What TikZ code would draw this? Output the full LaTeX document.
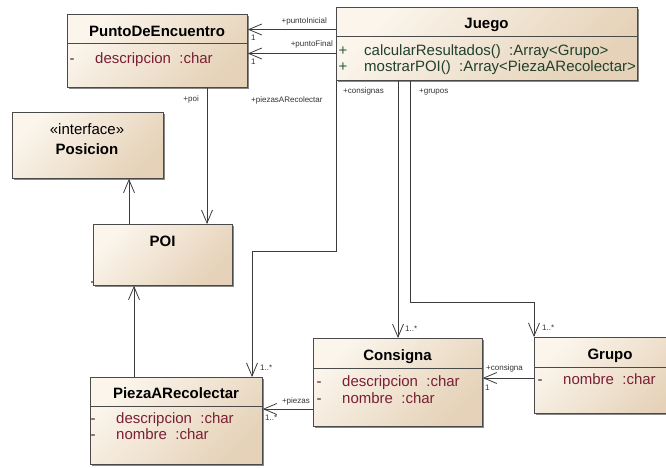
\documentclass[tikz,border=0pt]{standalone}
\usepackage{fontspec}
\setmainfont{Liberation Sans}
\usetikzlibrary{arrows.meta,shadows}
\definecolor{boxA}{HTML}{FBF5EC}
\definecolor{boxB}{HTML}{E5D2B8}
\definecolor{edge}{HTML}{4A4A4A}
\definecolor{attr}{HTML}{7A2035}
\definecolor{dashc}{HTML}{4A1A22}
\definecolor{meth}{HTML}{22402E}
\definecolor{plusc}{HTML}{2C5E3A}
\definecolor{lbl}{HTML}{333333}
\definecolor{wire}{HTML}{3C3C3C}
\begin{document}
\begin{tikzpicture}[x=1pt,y=-1pt,
  cls/.style={draw=edge, line width=0.8pt, anchor=north west, inner sep=0pt,
    top color=boxA, bottom color=boxB, shading angle=45,
    drop shadow={shadow xshift=2pt, shadow yshift=-2pt, fill=black!55, opacity=0.85}},
  divline/.style={draw=edge, line width=0.7pt},
  ttl/.style={font=\fontsize{15}{18}\selectfont\bfseries, anchor=base, inner sep=0pt},
  stereo/.style={font=\fontsize{15}{18}\selectfont, anchor=base, inner sep=0pt},
  attrtxt/.style={font=\fontsize{15}{18}\selectfont, text=attr, anchor=base west, inner sep=0pt},
  dsh/.style={font=\fontsize{15}{18}\selectfont, text=dashc, anchor=base, inner sep=0pt},
  methtxt/.style={font=\fontsize{15}{18}\selectfont, text=meth, anchor=base west, inner sep=0pt},
  plus/.style={font=\fontsize{15}{18}\selectfont, text=plusc, anchor=base, inner sep=0pt},
  lab/.style={font=\fontsize{8}{9}\selectfont, text=lbl, inner sep=0pt},
  assoc/.style={draw=wire, line width=0.8pt, -{Straight Barb[length=13pt,width=11pt]}},
  plain/.style={draw=wire, line width=0.8pt}
]
\useasboundingbox (0,0) rectangle (666,467);

% ---------- classes ----------
\node[cls, minimum width=180pt, minimum height=73pt] (pde) at (67,14) {};
\node[cls, minimum width=301pt, minimum height=73pt] (juego) at (336,7) {};
\node[cls, minimum width=151pt, minimum height=66pt] (pos) at (12,112) {};
\node[cls, minimum width=139pt, minimum height=61pt] (poi) at (93,224) {};
\node[cls, minimum width=172pt, minimum height=87pt] (pieza) at (90,377) {};
\node[cls, minimum width=169pt, minimum height=88pt] (cons) at (313,338) {};
\node[cls, minimum width=152pt, minimum height=76pt] (grupo) at (534,337) {};

% divider levels
\coordinate (dPde) at (0,43);
\coordinate (dJue) at (0,36);
\coordinate (dPie) at (0,406);
\coordinate (dCon) at (0,368);
\coordinate (dGru) at (0,367);
\draw[divline] (pde.west |- dPde) -- (pde.east |- dPde);
\draw[divline] (juego.west |- dJue) -- (juego.east |- dJue);
\draw[divline] (pieza.west |- dPie) -- (pieza.east |- dPie);
\draw[divline] (cons.west |- dCon) -- (cons.east |- dCon);
\draw[divline] (grupo.west |- dGru) -- (grupo.east |- dGru);

% ---------- texts ----------
\node[ttl] (pdeT) at (157,36) {PuntoDeEncuentro};
\node[dsh] (pdeM1) at (72,63) {-};
\node[attrtxt] (pdeA1) at (95,63) {descripcion~ :char};

\node[ttl] (jueT) at (486.5,28) {Juego};
\node[plus] (jueP1) at (343,55) {+};
\node[methtxt] (jueM1) at (364,55) {calcularResultados()~ :Array<Grupo>};
\node[plus] (jueP2) at (343,71) {+};
\node[methtxt] (jueM2) at (364,71) {mostrarPOI()~ :Array<PiezaARecolectar>};

\node[stereo] (posS) at (87,134) {«interface»};
\node[ttl] (posT) at (87,154) {Posicion};

\node[ttl] (poiT) at (162.5,246) {POI};
\fill[black] (92,282) circle (0.9);

\node[ttl] (pieT) at (176,398) {PiezaARecolectar};
\node[dsh] (pieM1) at (93,423) {-};
\node[attrtxt] (pieA1) at (116,423) {descripcion~ :char};
\node[dsh] (pieM2) at (93,439) {-};
\node[attrtxt] (pieA2) at (116,439) {nombre~ :char};

\node[ttl] (conT) at (397.5,360) {Consigna};
\node[dsh] (conM1) at (319,386) {-};
\node[attrtxt] (conA1) at (342,386) {descripcion~ :char};
\node[dsh] (conM2) at (319,403) {-};
\node[attrtxt] (conA2) at (342,403) {nombre~ :char};

\node[ttl] (gruT) at (610,359) {Grupo};
\node[dsh] (gruM1) at (540,384) {-};
\node[attrtxt] (gruA1) at (563,384) {nombre~ :char};

% ---------- connectors ----------
\coordinate (yPI) at (0,29.5);
\coordinate (yPF) at (0,53.5);
\draw[assoc] (juego.west |- yPI) -- (pde.east |- yPI);
\draw[assoc] (juego.west |- yPF) -- (pde.east |- yPF);

\coordinate (xPoi) at (207,0);
\draw[assoc] (pde.south -| xPoi) -- (poi.north -| xPoi);

\coordinate (xPos) at (129,0);
\draw[assoc] (poi.north -| xPos) -- (pos.south -| xPos);

\coordinate (xPie) at (134,0);
\draw[assoc] (pieza.north -| xPie) -- (poi.south -| xPie);

\coordinate (pz1) at (336,251);
\coordinate (pz2) at (252,251);
\draw[assoc] (juego.south west) -- (pz1) -- (pz2) -- (pieza.north -| pz2);

\coordinate (xCon) at (398,0);
\draw[assoc] (juego.south -| xCon) -- (cons.north -| xCon);

\coordinate (gr1) at (410,302);
\coordinate (gr2) at (534,302);
\draw[assoc] (juego.south -| gr1) -- (gr1) -- (gr2) -- (grupo.north west);

\coordinate (yGC) at (0,378);
\draw[assoc] (grupo.west |- yGC) -- (cons.east |- yGC);

\coordinate (yCP) at (0,409);
\draw[assoc] (cons.west |- yCP) -- (pieza.east |- yCP);

% ---------- role labels ----------
\node[lab, anchor=base east] (lPI) at (327,23) {+puntoInicial};
\node[lab, anchor=base west] (lPI1) at (251,40.5) {1};
\node[lab, anchor=base east] (lPF) at (333,46.5) {+puntoFinal};
\node[lab, anchor=base west] (lPF1) at (251,64.5) {1};
\node[lab, anchor=base east] (lPoi) at (199,101) {+poi};
\node[lab, anchor=base west] (lPz) at (251,102) {+piezasARecolectar};
\node[lab, anchor=base west] (lCs) at (343,93.5) {+consignas};
\node[lab, anchor=base west] (lGr) at (419,93.5) {+grupos};
\node[lab, anchor=base west] (lPzM) at (260,370) {1..*};
\node[lab, anchor=base west] (lCsM) at (405,331) {1..*};
\node[lab, anchor=base west] (lGrM) at (542,330) {1..*};
\node[lab, anchor=base west] (lCg) at (486,370) {+consigna};
\node[lab, anchor=base west] (lCg1) at (485,390) {1};
\node[lab, anchor=base east] (lPs) at (310,403) {+piezas};
\node[lab, anchor=base west] (lPsM) at (265,420) {1..*};
\end{tikzpicture}
\end{document}
